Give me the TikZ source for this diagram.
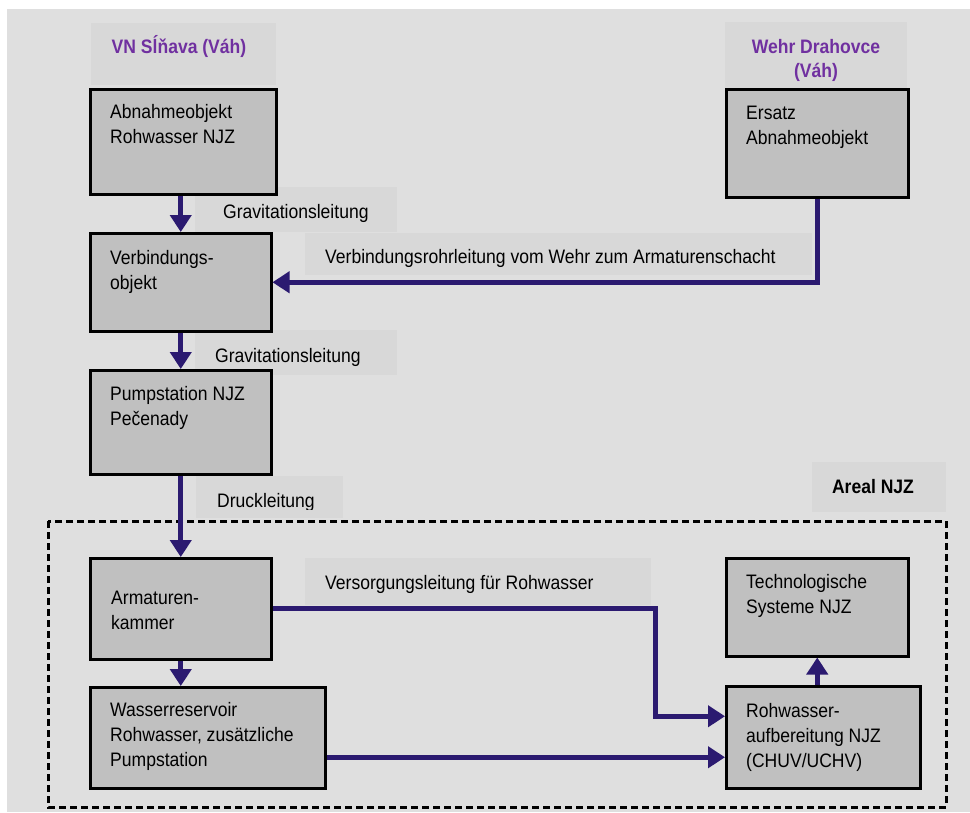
\documentclass[tikz,border=0pt]{standalone}
\usepackage{fontspec}
\setmainfont{Liberation Sans}[FakeStretch=0.9]
\usetikzlibrary{arrows.meta,calc}
\definecolor{bgc}{HTML}{DFDFDF}
\definecolor{lblc}{HTML}{D8D8D8}
\definecolor{boxc}{HTML}{C0C0C0}
\definecolor{flow}{HTML}{2B1A70}
\definecolor{site}{HTML}{7030A0}
\begin{document}
\begin{tikzpicture}[x=1pt,y=-1pt,
  font=\fontsize{19.5}{25}\selectfont,
  unit/.style={draw=black,fill=boxc,line width=2.5pt,inner sep=0,anchor=north west},
  % multi-line texts are placed by the baseline of their last line
  txt/.style={inner sep=0,anchor=base west,align=left,text=black},
  title/.style={inner sep=0,anchor=base,align=center,font=\fontsize{19.5}{24}\selectfont\bfseries},
  lbl/.style={fill=lblc},
  pipe/.style={draw=flow,line width=5pt},
  tip/.style={-{Triangle[width=21pt,length=17pt]}}]
\useasboundingbox (0,0) rectangle (970,812);
\fill[white] (0,0) rectangle (970,812);
\fill[bgc] (7,9) rectangle (970,812);

% light panels behind the captions
\fill[lbl] (91,23) rectangle (276,85);
\fill[lbl] (725,22) rectangle (907,88);
\fill[lbl] (195,187) rectangle (397,232);
\fill[lbl] (305,233) rectangle (812,275);
\fill[lbl] (195,330) rectangle (397,375);
\fill[lbl] (196,476) rectangle (343,518);
\fill[lbl] (812,462) rectangle (946,512);
\fill[lbl] (305,558) rectangle (651,605);

% site area
\draw[line width=3pt,dash pattern=on 7pt off 4pt] (48,521) rectangle (946,807);

% units
\node[unit,minimum width=186pt,minimum height=105pt] (b1) at (89,88) {};
\node[unit,minimum width=181pt,minimum height=98pt] (b2) at (89,232) {};
\node[unit,minimum width=181pt,minimum height=104pt] (b3) at (89,369) {};
\node[unit,minimum width=181pt,minimum height=101pt] (b4) at (89,557) {};
\node[unit,minimum width=235pt,minimum height=101pt] (b5) at (89,686) {};
\node[unit,minimum width=182pt,minimum height=108pt] (ers) at (725,88) {};
\node[unit,minimum width=182pt,minimum height=98pt] (b7) at (725,557) {};
\node[unit,minimum width=194pt,minimum height=102pt] (b6) at (725,685) {};

% unit texts
\node[txt] (t1) at (110,143) {Abnahmeobjekt\\Rohwasser NJZ};
\node[txt] (t2) at (110,289) {Verbindungs-\\objekt};
\node[txt] (t3) at (110,425) {Pumpstation NJZ\\Pečenady};
\node[txt] (t4) at (111,629) {Armaturen-\\kammer};
\node[txt] (t5) at (110,766) {Wasserreservoir\\Rohwasser, zusätzliche\\Pumpstation};
\node[txt] (te) at (746,144) {Ersatz\\Abnahmeobjekt};
\node[txt] (t7) at (746,613) {Technologische\\Systeme NJZ};
\node[txt] (t6) at (746,767) {Rohwasser-\\aufbereitung NJZ\\(CHUV/UCHV)};

% site titles
\node[title,text=site] (vn) at (179,53) {VN Sĺňava (Váh)};
\node[title,text=site] (wehr) at (816,77) {Wehr Drahovce\\(Váh)};
\node[title,text=black] (areal) at (873,493) {Areal NJZ};

% pipe captions
\node[txt] (g1) at (223,218) {Gravitationsleitung};
\node[txt] (vr) at (325,263) {Verbindungsrohrleitung vom Wehr zum Armaturenschacht};
\node[txt] (g2) at (215,362) {Gravitationsleitung};
\begin{scope}
  \clip (196,476) rectangle (343,509);
  \node[txt] (dl) at (217,507) {Druckleitung};
\end{scope}
\node[txt] (vs) at (325,589) {Versorgungsleitung für Rohwasser};

% pipes
\draw[pipe,tip] (b1.south -| b2.north) -- (b2.north);
\draw[pipe,tip] (b2.south) -- (b3.north);
\draw[pipe,tip] (b3.south) -- (b4.north);
\draw[pipe,tip] (b4.south) -- (b4.south |- b5.north);
\draw[pipe,tip] (ers.south) |- (b2.east);
\coordinate (bend) at (655,0);
\coordinate (in1) at ($(b6.west)+(0,-21)$);
\coordinate (in2) at ($(b6.west)+(0,20)$);
\draw[pipe,tip] (b4.east) -| (bend |- in1) -- (in1);
\draw[pipe,tip] (b5.east |- in2) -- (in2);
\draw[pipe,tip] (b7.south |- b6.north) -- (b7.south);
\end{tikzpicture}
\end{document}
